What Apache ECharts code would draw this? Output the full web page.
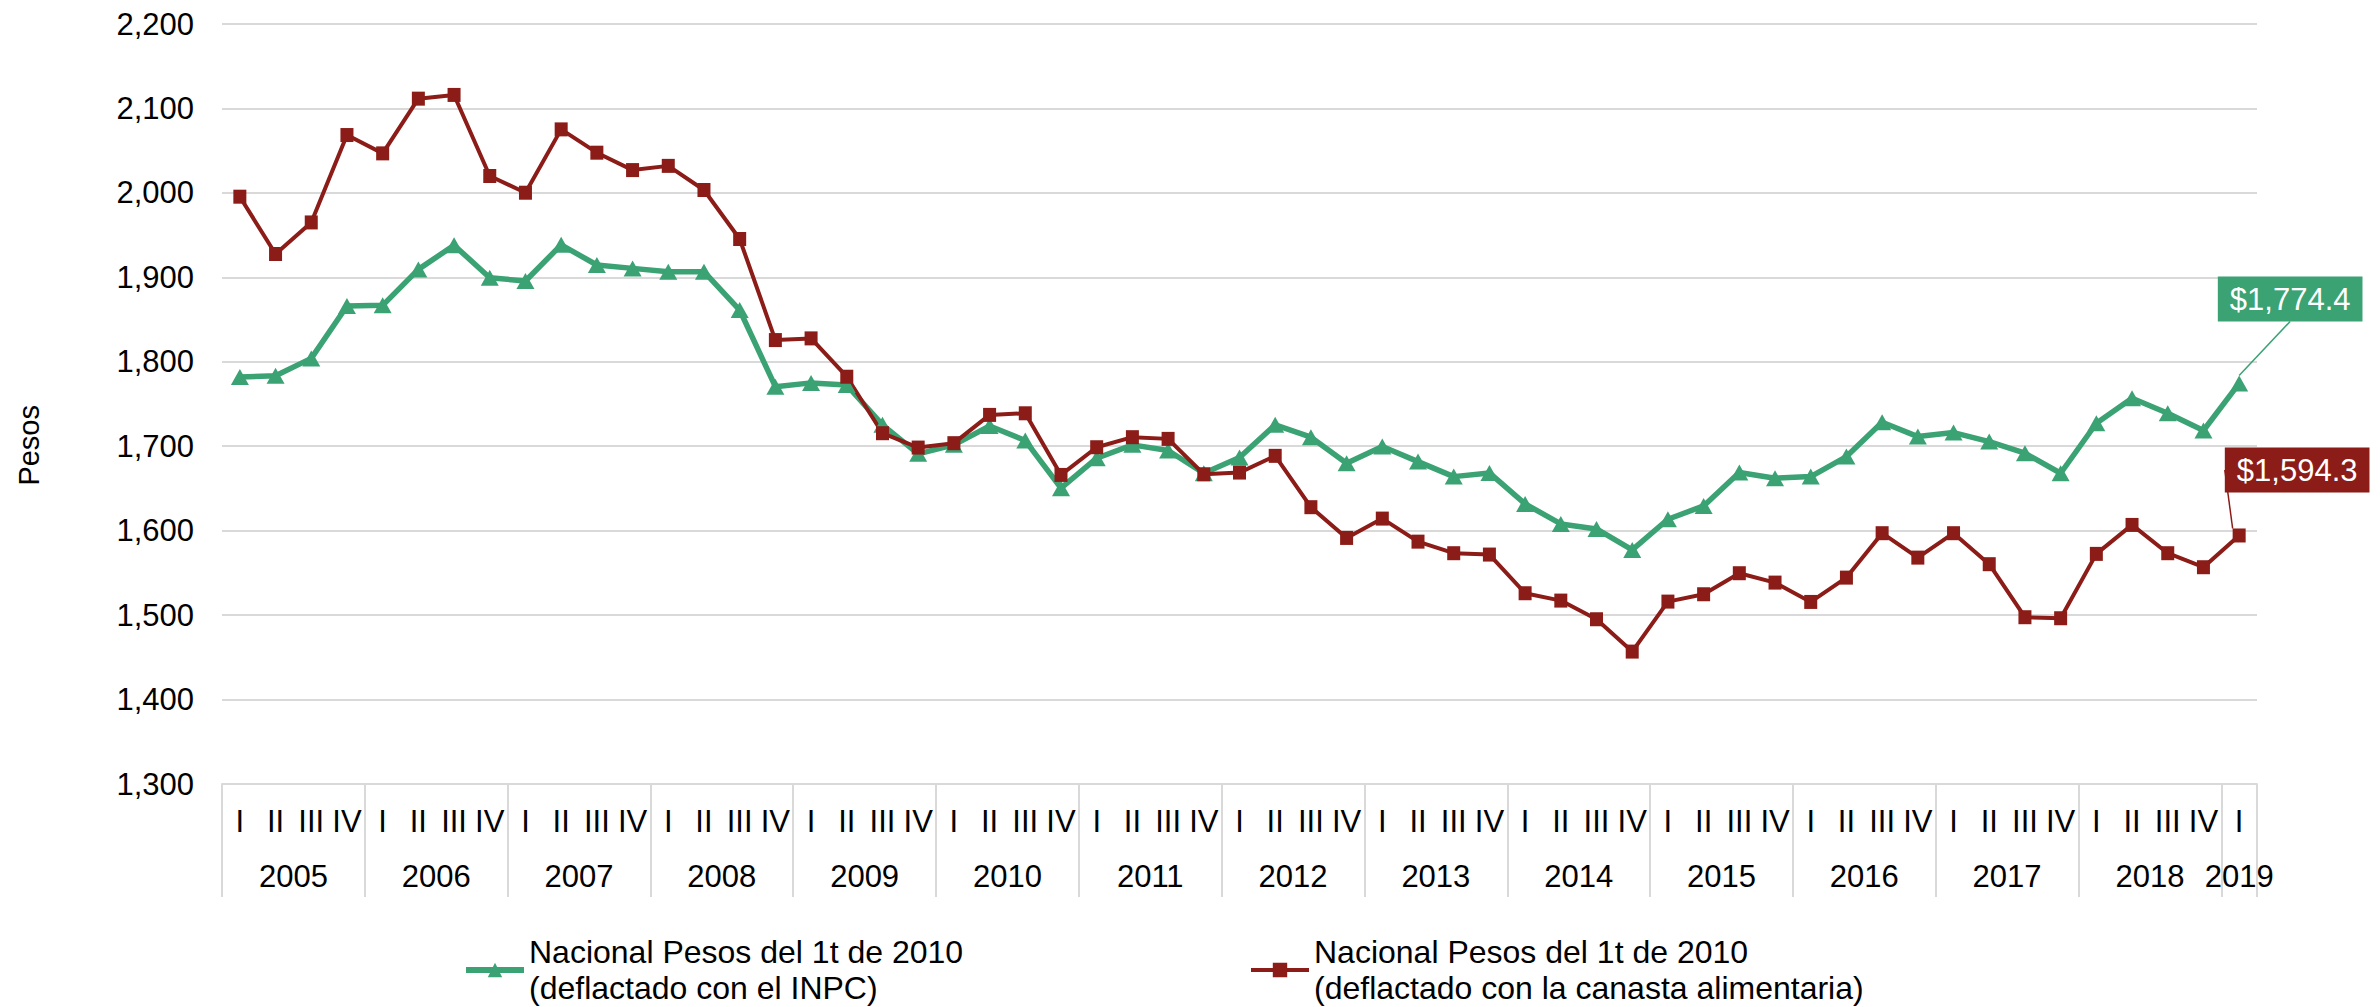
<!DOCTYPE html>
<html><head><meta charset="utf-8">
<script src="https://cdn.jsdelivr.net/npm/echarts@6/dist/echarts.min.js"></script>
<style>html,body{margin:0;padding:0;background:#fff}#c{width:2380px;height:1007px}</style>
</head><body><div id="c"></div><script>
const years = ['2005','2006','2007','2008','2009','2010','2011','2012','2013','2014','2015','2016','2017','2018','2019'];
const quartersPerYear = [4,4,4,4,4,4,4,4,4,4,4,4,4,4,1];
const quarterNames = ['I','II','III','IV'];
const nameInpc = 'Nacional Pesos del 1t de 2010\n(deflactado con el INPC)';
const nameCanasta = 'Nacional Pesos del 1t de 2010\n(deflactado con la canasta alimentaria)';
const inpc = [1782, 1783.5, 1804, 1866, 1866.8, 1909.4, 1938, 1899.6, 1895.6, 1938.5, 1914.6, 1910.6, 1906.7, 1906.7, 1861.3, 1770.5, 1775, 1772.4, 1725.3, 1691, 1701.6, 1724, 1706.7, 1650.3, 1685.8, 1701.6, 1694.9, 1668, 1686.6, 1725.3, 1710.7, 1679.9, 1699.6, 1681.8, 1664, 1668.4, 1631.7, 1608, 1602, 1577.2, 1613.5, 1629.3, 1668.8, 1662.1, 1664, 1687.8, 1728.4, 1711.4, 1716.2, 1705.5, 1691.7, 1668, 1727.2, 1756.8, 1739.1, 1718.6, 1774.4];
const canasta = [1995.5, 1927.6, 1965, 2068.5, 2046.8, 2111.6, 2116, 2020, 2000.2, 2075.2, 2047.6, 2027, 2032, 2003.4, 1945.4, 1825.7, 1827.7, 1782.3, 1715.4, 1698.4, 1703.6, 1737.1, 1739, 1666, 1698.8, 1710.7, 1708.7, 1666.8, 1668.8, 1688.6, 1627.8, 1591.4, 1614.3, 1587, 1573.3, 1571.7, 1525.9, 1517.2, 1495.1, 1456.8, 1516, 1524.7, 1549.6, 1538.5, 1515.6, 1544.4, 1597, 1568.1, 1597, 1560.3, 1497.5, 1496.3, 1572.5, 1606.8, 1573.3, 1556.7, 1594.3];
const yMin = 1300, yMax = 2200, yStep = 100;

const FONT = 'Liberation Sans, Arial, sans-serif';
const GREEN = '#3AA273';
const RED = '#8C1C17';

const categories = [];
const quarterOfCat = [];
years.forEach((y, yi) => {
  for (let q = 0; q < quartersPerYear[yi]; q++) { categories.push(y + ' ' + quarterNames[q]); quarterOfCat.push(quarterNames[q]); }
});
const nCat = categories.length;
const halfPos = new Array(nCat * 2 + 1).fill('');
let start = 0;
years.forEach((y, yi) => {
  halfPos[start * 2 + quartersPerYear[yi]] = y;
  start += quartersPerYear[yi];
});

function money(v) {
  return '$' + v.toLocaleString('en-US', {minimumFractionDigits: 1, maximumFractionDigits: 1});
}
function withEndLabel(arr, color) {
  return arr.map((v, i) => i === arr.length - 1 ? {
    value: v,
    label: {show: true, formatter: p => money(p.value), backgroundColor: color, color: '#fff',
      fontSize: 31, fontFamily: FONT, padding: [6, 12, 4, 12], lineHeight: 35}
  } : v);
}

const chart = echarts.init(document.getElementById('c'), null, {renderer: 'svg'});
const legendBase = {
  orient: 'horizontal', padding: 0, itemWidth: 58, itemHeight: 18, itemGap: 0, top: 916,
  textStyle: {fontSize: 32, fontFamily: FONT, color: '#000', lineHeight: 36, padding: [36, 0, 0, 0]}
};
chart.setOption({
  animation: false,
  grid: {left: 222, right: 123, top: 24, bottom: 223, containLabel: false},
  graphic: [{type: 'text', left: 14, top: 405, rotation: Math.PI / 2,
    style: {text: 'Pesos', font: '29px ' + FONT, fill: '#000'}}],
  legend: [
    Object.assign({}, legendBase, {left: 463, data: [nameInpc], lineStyle: {width: 6}}),
    Object.assign({}, legendBase, {left: 1249, data: [nameCanasta], lineStyle: {width: 4}})
  ],
  xAxis: [{
    type: 'category', data: categories, boundaryGap: true,
    axisLine: {show: true, lineStyle: {color: '#d9d9d9', width: 2}},
    axisTick: {show: true, length: 113, interval: (i) => i % 4 === 0, lineStyle: {color: '#d9d9d9', width: 2}},
    axisLabel: {interval: 0, margin: 22, fontSize: 31, fontFamily: FONT, color: '#000',
      formatter: (v, i) => quarterOfCat[i]},
    splitLine: {show: false}
  }, {
    type: 'category', data: halfPos, boundaryGap: false, position: 'bottom',
    axisLine: {show: false}, axisTick: {show: false}, splitLine: {show: false},
    axisLabel: {interval: 0, margin: 77, fontSize: 31, fontFamily: FONT, color: '#000'}
  }],
  yAxis: {
    type: 'value', min: yMin, max: yMax, interval: yStep,
    axisLine: {show: false}, axisTick: {show: false},
    axisLabel: {margin: 28, fontSize: 31, fontFamily: FONT, color: '#000',
      formatter: v => v.toLocaleString('en-US')},
    splitLine: {lineStyle: {color: '#d9d9d9', width: 2}}
  },
  series: [{
    name: nameInpc, type: 'line', data: withEndLabel(inpc, GREEN),
    symbol: 'triangle', symbolSize: [18, 16], color: GREEN,
    lineStyle: {width: 5.5, color: GREEN}, itemStyle: {color: GREEN},
    labelLine: {show: true, lineStyle: {color: GREEN, width: 1.5}},
    labelLayout: p => p.dataIndex === inpc.length - 1 ? {dx: 51, dy: -49} : {}
  }, {
    name: nameCanasta, type: 'line', data: withEndLabel(canasta, RED),
    symbol: 'rect', symbolSize: [13, 14], color: RED,
    lineStyle: {width: 4, color: RED}, itemStyle: {color: RED},
    labelLine: {show: true, lineStyle: {color: RED, width: 1.5}},
    labelLayout: p => p.dataIndex === canasta.length - 1 ? {dx: 58, dy: -31} : {}
  }]
});
</script></body></html>
